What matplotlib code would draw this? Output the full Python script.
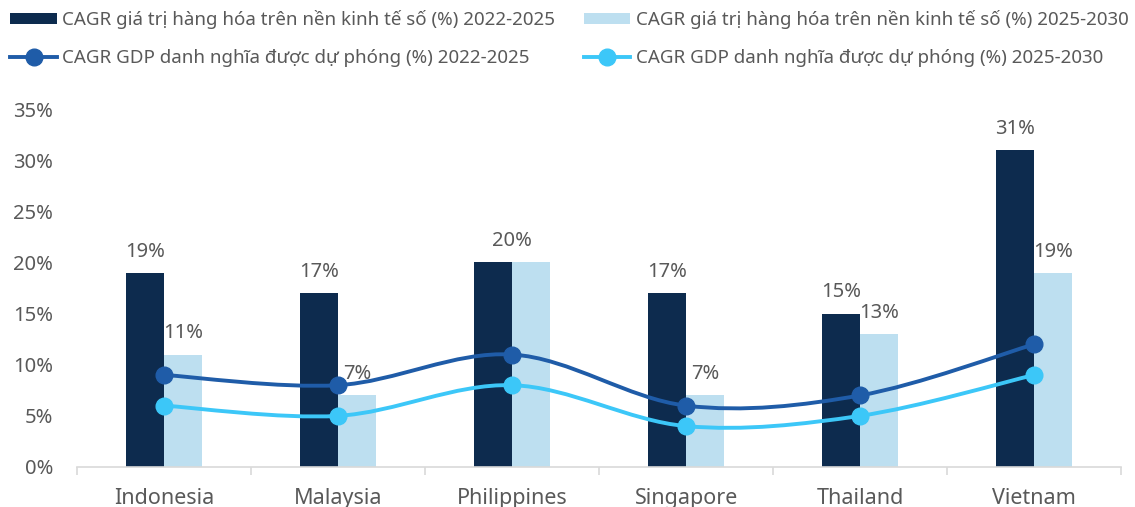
import matplotlib
matplotlib.use('Agg')
import matplotlib.pyplot as plt
import numpy as np
from matplotlib.lines import Line2D
from matplotlib.patches import Patch, PathPatch
from matplotlib.path import Path

plt.rcParams['font.family'] = ['Noto Sans', 'DejaVu Sans']

countries = ['Indonesia', 'Malaysia', 'Philippines', 'Singapore', 'Thailand', 'Vietnam']
goods_2022_2025 = [19, 17, 20, 17, 15, 31]
goods_2025_2030 = [11, 7, 20, 7, 13, 19]
gdp_2022_2025 = [9, 8, 11, 6, 7, 12]
gdp_2025_2030 = [6, 5, 8, 4, 5, 9]

labels = [
    'CAGR giá trị hàng hóa trên nền kinh tế số (%) 2022-2025',
    'CAGR giá trị hàng hóa trên nền kinh tế số (%) 2025-2030',
    'CAGR GDP danh nghĩa được dự phóng (%) 2022-2025',
    'CAGR GDP danh nghĩa được dự phóng (%) 2025-2030',
]

DARK = '#0d2b4e'
LIGHT = '#bddff0'
LINE_DARK = '#1f5ca8'
LINE_CYAN = '#3cc7f8'
TEXT = '#595959'
AXIS = '#d9d9d9'
FS_LEG = 13.5
FS_NUM = 14.5


def smooth_path(xs, ys):
    # Bezier segments with Catmull-Rom style control points
    pts = np.column_stack([xs, ys]).astype(float)
    n = len(pts)
    verts = [pts[0]]
    codes = [Path.MOVETO]
    for i in range(n - 1):
        p_prev = pts[max(i - 1, 0)]
        p0 = pts[i]
        p1 = pts[i + 1]
        p_next = pts[min(i + 2, n - 1)]
        c1 = p0 + (p1 - p_prev) / 6.0
        c2 = p1 - (p_next - p0) / 6.0
        verts += [c1, c2, p1]
        codes += [Path.CURVE4] * 3
    return Path(verts, codes)


fig = plt.figure(figsize=(11.35, 5.07), dpi=100)
ax = fig.add_axes([0.0678, 0.0789, 0.92, 0.706])

x = np.arange(len(countries))
w = 0.218
ax.bar(x - w / 2, goods_2022_2025, width=w, color=DARK, zorder=2)
ax.bar(x + w / 2, goods_2025_2030, width=w, color=LIGHT, zorder=2)

for ys, col in [(gdp_2022_2025, LINE_DARK), (gdp_2025_2030, LINE_CYAN)]:
    ax.add_patch(PathPatch(smooth_path(x, ys), facecolor='none', edgecolor=col,
                           lw=2.8, zorder=3, capstyle='round'))
    ax.plot(x, ys, 'o', color=col, ms=12, zorder=4)

for i in range(len(countries)):
    a, b = goods_2022_2025[i], goods_2025_2030[i]
    if a == b:
        ax.annotate(f'{a}%', (x[i], a), xytext=(0, 8), textcoords='offset points',
                    ha='center', va='bottom', fontsize=FS_NUM, color=TEXT, zorder=5)
        continue
    ax.annotate(f'{a}%', (x[i] - w / 2, a), xytext=(0, 8), textcoords='offset points',
                ha='center', va='bottom', fontsize=FS_NUM, color=TEXT, zorder=5)
    ax.annotate(f'{b}%', (x[i] + w / 2, b), xytext=(0, 8), textcoords='offset points',
                ha='center', va='bottom', fontsize=FS_NUM, color=TEXT, zorder=5)

ax.set_xlim(-0.5, len(countries) - 0.5)
ax.set_ylim(0, 35)
ax.set_yticks(np.arange(0, 36, 5))
ax.set_yticklabels([f'{v}%' for v in range(0, 36, 5)])
ax.tick_params(axis='y', length=0, pad=17, labelsize=FS_NUM, labelcolor=TEXT)

ax.set_xticks(x)
ax.set_xticklabels(countries)
ax.set_xticks(np.arange(-0.5, len(countries), 1), minor=True)
ax.tick_params(axis='x', which='major', length=0, pad=15, labelsize=15.5, labelcolor=TEXT)
ax.tick_params(axis='x', which='minor', length=6, width=1.2, color=AXIS, direction='out')

for s in ['top', 'right', 'left']:
    ax.spines[s].set_visible(False)
ax.spines['bottom'].set_color(AXIS)
ax.spines['bottom'].set_linewidth(1.2)

handles = [
    Patch(facecolor=DARK, edgecolor='none'),
    Line2D([], [], color=LINE_DARK, lw=2.8, marker='o', ms=12),
    Patch(facecolor=LIGHT, edgecolor='none'),
    Line2D([], [], color=LINE_CYAN, lw=2.8, marker='o', ms=12),
]
fig.legend(handles, [labels[0], labels[2], labels[1], labels[3]], ncol=2,
           loc='upper left', bbox_to_anchor=(0.0, 1.0), frameon=False,
           fontsize=FS_LEG, labelcolor=TEXT, handlelength=2.5, handleheight=0.55,
           handletextpad=0.28, columnspacing=1.5, labelspacing=1.05,
           borderaxespad=0.15)

fig.savefig('out.png', dpi=100)
